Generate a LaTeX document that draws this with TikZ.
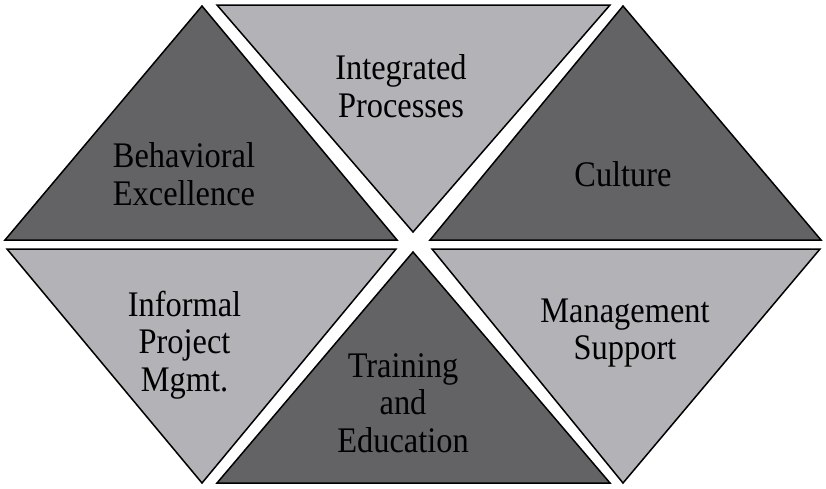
\documentclass[tikz,border=0pt]{standalone}
\usepackage{fontspec}
\setmainfont[FakeStretch=0.9]{Liberation Serif}
\definecolor{darkfill}{RGB}{99,99,101}
\definecolor{lightfill}{RGB}{179,179,183}
\begin{document}
\begin{tikzpicture}[x=1pt,y=-1pt,
  tri/.style={draw=black,line width=1.5pt,line join=miter},
  darktri/.style={tri,fill=darkfill},
  lighttri/.style={tri,fill=lightfill},
  lbl/.style={font=\fontsize{36}{37.5}\selectfont,align=center,inner sep=0pt,text=black}]
\useasboundingbox (0,0) rectangle (826,488);
\fill[white] (0,0) rectangle (826,488);
% top row
\draw[darktri]  (5,240) -- (397,240) -- (202,6) -- cycle;
\draw[lighttri] (217,5) -- (610,5) -- (413,232) -- cycle;
\draw[darktri]  (430,240) -- (821,240) -- (623,6) -- cycle;
% bottom row
\draw[lighttri] (7,249) -- (396,249) -- (202,483) -- cycle;
\draw[darktri]  (217,483) -- (610,483) -- (413,252) -- cycle;
\draw[lighttri] (432,249) -- (820,249) -- (623,483) -- cycle;
% labels
\node[lbl] (beh) at (184,174) {Behavioral\\Excellence};
\node[lbl] (int) at (401,86) {Integrated\\Processes};
\node[lbl] (cul) at (623,174) {Culture};
\node[lbl] (inf) at (184.5,345) {Informal\\Project\\Mgmt.};
\node[lbl] (tra) at (403,403) {Training\\and\\Education};
\node[lbl] (man) at (625,333) {Management\\Support};
\end{tikzpicture}
\end{document}
